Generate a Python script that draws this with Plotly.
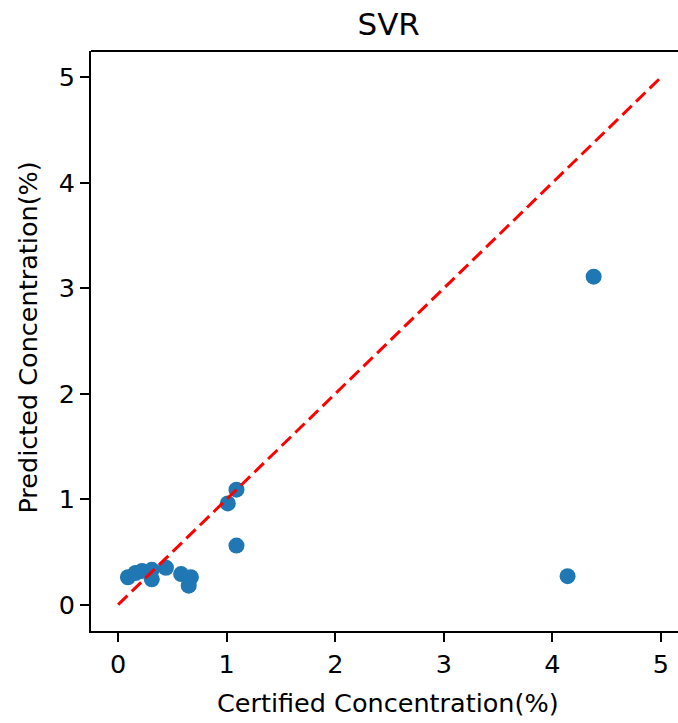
import plotly.graph_objects as go

# Data
certified = [0.09, 0.16, 0.22, 0.31, 0.31, 0.44, 0.58, 0.67, 0.65, 1.01, 1.09, 1.09, 4.14, 4.38]
predicted = [0.26, 0.30, 0.32, 0.33, 0.24, 0.35, 0.29, 0.26, 0.18, 0.96, 1.09, 0.56, 0.27, 3.11]
ideal_x = [0, 5]
ideal_y = [0, 5]
tick_vals = [0, 1, 2, 3, 4, 5]

W, H = 678, 723
L, T, B, R = 91.4, 50.6, 91.6, 0
PW = W - L - R
PH = H - T - B

fig = go.Figure()
fig.add_trace(go.Scatter(
    x=certified, y=predicted, mode="markers",
    marker=dict(color="#1f77b4", size=16, line=dict(width=0)),
    showlegend=False,
))
fig.add_trace(go.Scatter(
    x=ideal_x, y=ideal_y, mode="lines",
    line=dict(color="red", width=3, dash="13px,6px"),
    showlegend=False,
))

font = dict(family="DejaVu Sans", size=25.5, color="black")

fig.update_layout(
    width=W, height=H,
    margin=dict(l=L, r=R, t=T, b=B, pad=0),
    plot_bgcolor="white", paper_bgcolor="white",
    font=font,
    title=dict(text="SVR", font=dict(family="DejaVu Sans", size=31, color="black"),
               xref="container", x=388.7 / W, xanchor="center",
               yref="container", y=1 - 24.5 / H, yanchor="middle"),
    xaxis=dict(
        range=[-0.25, 5.157], tickvals=tick_vals, ticks="outside", ticklen=9, tickwidth=2,
        tickcolor="black", showline=True, linecolor="black", linewidth=2,
        showgrid=False, zeroline=False, tickfont=font,
    ),
    yaxis=dict(
        range=[-0.25, 5.25], tickvals=tick_vals, ticks="outside", ticklen=9, tickwidth=2,
        tickcolor="black", showline=True, linecolor="black", linewidth=2,
        showgrid=False, zeroline=False, tickfont=font,
    ),
    shapes=[dict(type="line", xref="paper", yref="paper", x0=0, x1=1, y0=1, y1=1,
                 line=dict(color="black", width=2))],
    annotations=[
        dict(text="Certified Concentration(%)", xref="paper", yref="paper",
             x=(388.5 - L) / PW, y=(H - B - 703) / PH, xanchor="center", yanchor="middle",
             showarrow=False, font=font),
        dict(text="Predicted Concentration(%)", xref="paper", yref="paper",
             x=(28 - L) / PW, y=(H - B - 338) / PH, xanchor="center", yanchor="middle",
             showarrow=False, textangle=-90, font=font),
    ],
)

fig.write_html("out.html")
